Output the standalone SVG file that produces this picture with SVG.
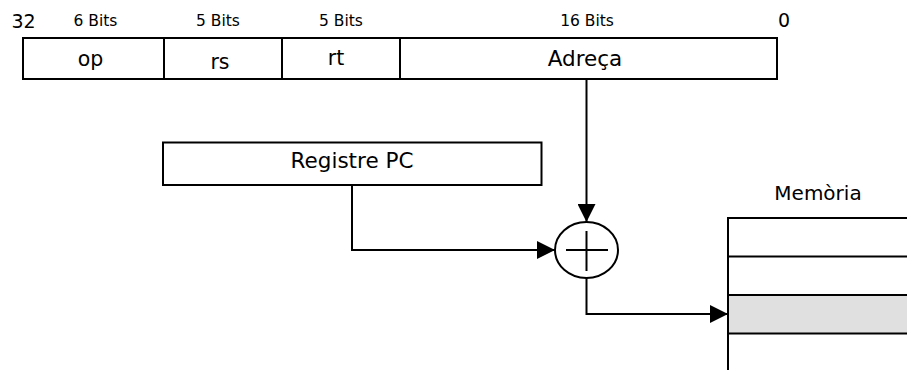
<svg xmlns="http://www.w3.org/2000/svg" width="907" height="370" viewBox="0 0 907 370">
<style>
.ln{fill:none;stroke:#000;stroke-width:2}
.bx{fill:#fff;stroke:#000;stroke-width:2}
.t{font-family:"DejaVu Sans",sans-serif;font-size:20.5px;fill:#000;text-anchor:middle}
.s{font-family:"DejaVu Sans",sans-serif;font-size:15.5px;fill:#000;text-anchor:middle}
.n{font-family:"DejaVu Sans",sans-serif;font-size:19px;fill:#000;text-anchor:middle}
</style>
<defs>
<marker id="ah" viewBox="0 0 18 18" refX="18" refY="9" markerWidth="18" markerHeight="18" markerUnits="userSpaceOnUse" orient="auto">
<path d="M0,0 L18,9 L0,18 Z" fill="#000"/>
</marker>
</defs>
<rect width="907" height="370" fill="#fff"/>
<g id="instruction">
<rect class="bx" x="23" y="38" width="754" height="41"/>
<line class="ln" x1="164" y1="38" x2="164" y2="79"/>
<line class="ln" x1="282" y1="38" x2="282" y2="79"/>
<line class="ln" x1="400" y1="38" x2="400" y2="79"/>
<text class="n" x="23.5" y="28">32</text>
<text class="n" x="784" y="27">0</text>
<text class="s" x="95.5" y="26">6 Bits</text>
<text class="s" x="218" y="26">5 Bits</text>
<text class="s" x="341" y="26">5 Bits</text>
<text class="s" x="587" y="26">16 Bits</text>
<text class="t" x="90.5" y="66">op</text>
<text class="t" x="220" y="69">rs</text>
<text class="t" x="336" y="65">rt</text>
<text class="t" x="585" y="66" style="font-size:21.5px">Adreça</text>
</g>
<g id="pc">
<rect class="bx" x="163" y="142.5" width="378.5" height="42.5"/>
<text class="t" x="352" y="168" style="font-size:21.5px">Registre PC</text>
</g>
<g id="adder">
<ellipse class="bx" cx="586.5" cy="250" rx="31.5" ry="28"/>
<line class="ln" x1="566" y1="250" x2="608" y2="250"/>
<line class="ln" x1="586.5" y1="231" x2="586.5" y2="271"/>
</g>
<g id="memory">
<text class="t" x="818" y="200" style="font-size:20px">Memòria</text>
<rect x="728" y="295" width="179" height="38.5" fill="#e0e0e0"/>
<line class="ln" x1="728" y1="218" x2="728" y2="370"/>
<line class="ln" x1="727" y1="218" x2="907" y2="218"/>
<line class="ln" x1="728" y1="256.5" x2="907" y2="256.5"/>
<line class="ln" x1="728" y1="295" x2="907" y2="295"/>
<line class="ln" x1="728" y1="333.5" x2="907" y2="333.5"/>
</g>
<g id="connectors">
<path class="ln" d="M586.5,79 V222" marker-end="url(#ah)"/>
<path class="ln" d="M352,185 V250 H555" marker-end="url(#ah)"/>
<path class="ln" d="M586.5,278 V314 H728" marker-end="url(#ah)"/>
</g>
</svg>
